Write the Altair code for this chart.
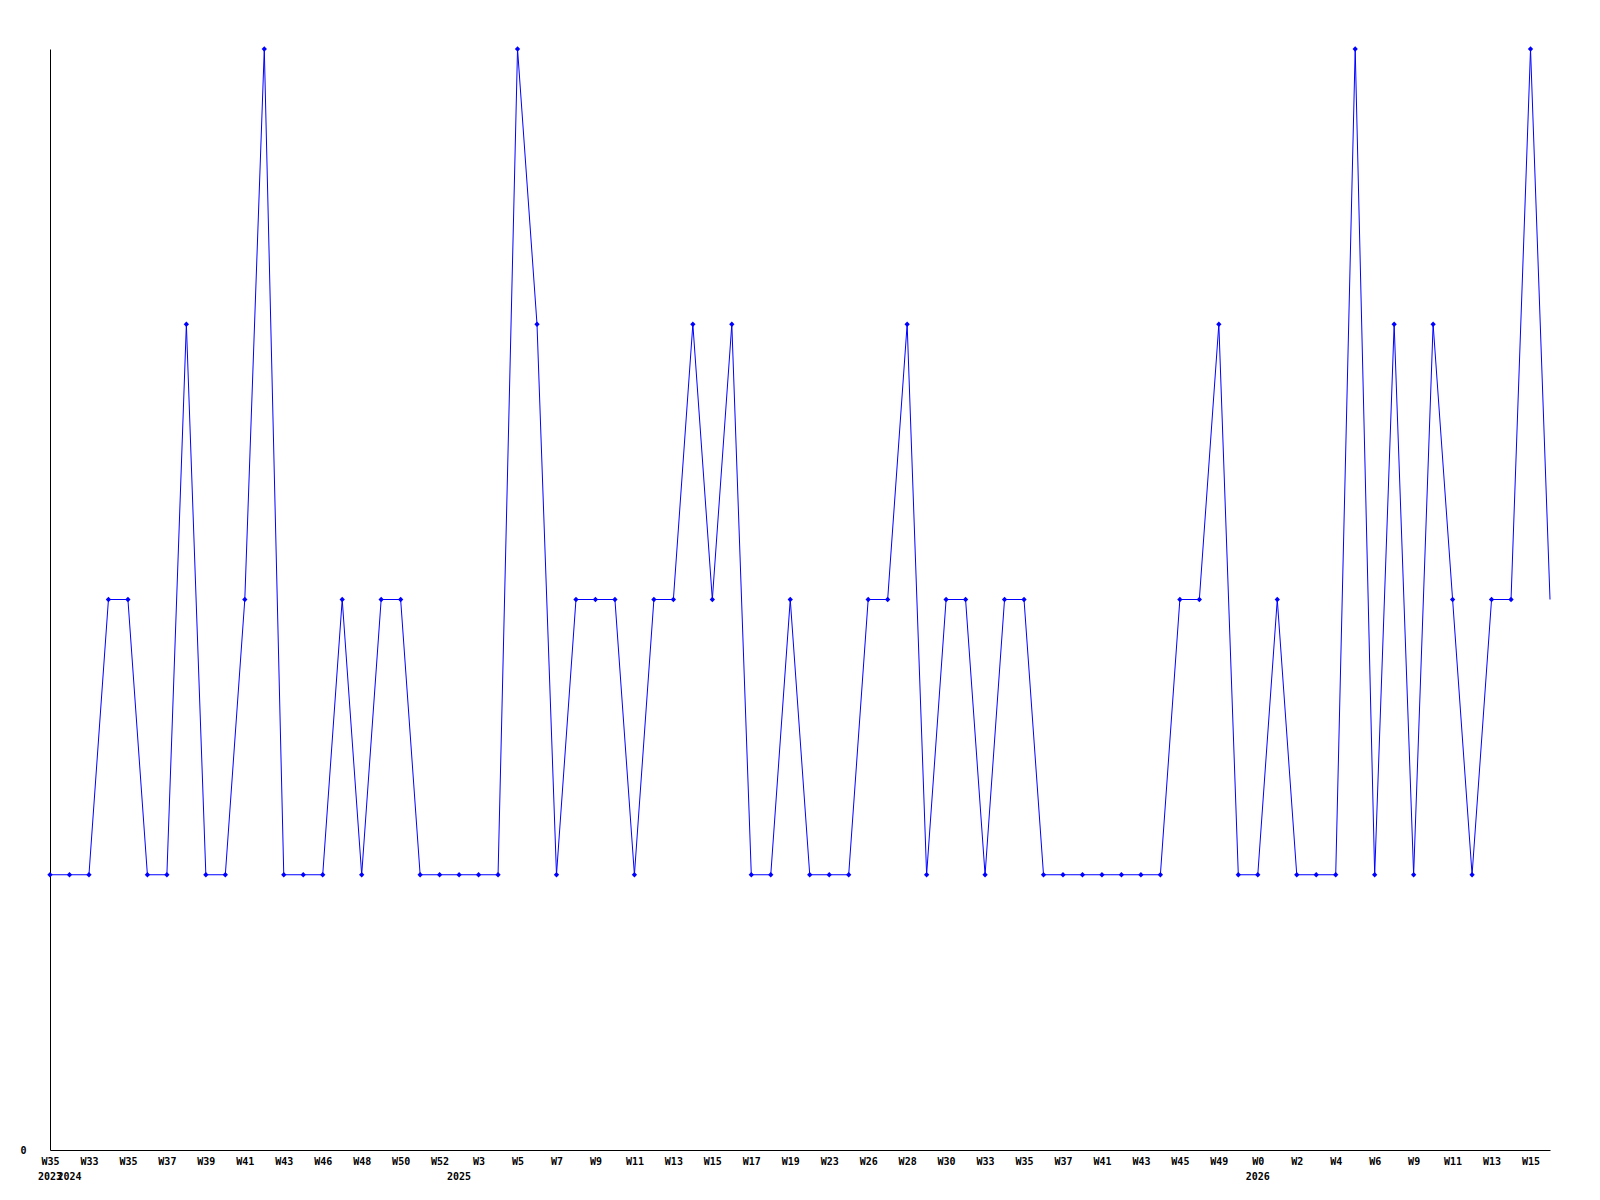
import altair as alt
import pandas as pd

years = [2023] + [2024] * 20 + [2025] * 41 + [2026] * 16
weeks = [
    35,
    32, 33, 34, 35, 36, 37, 38, 39, 40, 41, 42, 43, 45, 46, 47, 48, 49, 50, 51, 52,
    1, 3, 4, 5, 6, 7, 8, 9, 10, 11, 12, 13, 14, 15, 16, 17, 18, 19, 21, 23, 25, 26,
    27, 28, 29, 30, 32, 33, 34, 35, 36, 37, 39, 41, 42, 43, 44, 45, 47, 49, 51,
    0, 1, 2, 3, 4, 5, 6, 8, 9, 10, 11, 12, 13, 14, 15, 16,
]
values = [
    1, 1, 1, 2, 2, 1, 1, 3, 1, 1, 2, 4, 1, 1, 1, 2, 1, 2, 2, 1,
    1, 1, 1, 1, 4, 3, 1, 2, 2, 2, 1, 2, 2, 3, 2, 3, 1, 1, 2, 1,
    1, 1, 2, 2, 3, 1, 2, 2, 1, 2, 2, 1, 1, 1, 1, 1, 1, 1, 2, 2,
    3, 1, 1, 2, 1, 1, 1, 4, 1, 3, 1, 3, 2, 1, 2, 2, 4, 2,
]

keys = [f"{y}-W{w}" for y, w in zip(years, weeks)]
df = pd.DataFrame({"key": keys, "year": years, "value": values, "idx": range(len(keys))})
last_idx = len(keys) - 1

year_rows = []
seen = set()
for k, y in zip(keys, years):
    if y not in seen:
        seen.add(y)
        year_rows.append({"key": k, "label": str(y)})
ydf = pd.DataFrame(year_rows)

W, H = 1500, 1101
FONT = "DejaVu Sans Mono"

xscale = alt.Scale(domain=keys, padding=0)
xenc = alt.X(
    "key:N",
    scale=xscale,
    sort=keys,
    title=None,
    axis=alt.Axis(
        values=keys[::2],
        labelExpr="split(datum.value, '-')[1]",
        labelAngle=0,
        ticks=False,
        grid=False,
        domainColor="black",
        domainWidth=1,
        labelFont=FONT,
        labelFontWeight="bold",
        labelFontSize=10,
        labelColor="black",
        labelPadding=6,
        labelOverlap=False,
    ),
)
yenc = alt.Y(
    "value:Q",
    scale=alt.Scale(domain=[0, 4], nice=False),
    title=None,
    axis=alt.Axis(
        values=[0],
        format="d",
        ticks=False,
        grid=False,
        domainColor="black",
        domainWidth=1,
        labelFont=FONT,
        labelFontWeight="bold",
        labelFontSize=10,
        labelColor="black",
        labelPadding=24,
    ),
)

base = alt.Chart(df)
line = base.mark_line(color="#0000ff", strokeWidth=1).encode(x=xenc, y=yenc)
pts = base.transform_filter(alt.datum.idx < last_idx).mark_point(
    shape="diamond", filled=True, color="#0000ff", size=28, opacity=1
).encode(x=alt.X("key:N", scale=xscale, sort=keys), y=alt.Y("value:Q"))

yrs = alt.Chart(ydf).mark_text(
    font=FONT, fontWeight="bold", fontSize=10, color="black", baseline="middle", align="center"
).encode(
    x=alt.X("key:N", scale=xscale, sort=keys),
    y=alt.value(H + 27),
    text="label:N",
)

chart = (
    alt.layer(line, pts, yrs)
    .properties(
        width=W,
        height=H,
        autosize=alt.AutoSizeParams(type="none"),
        padding={"left": 42, "top": 41, "right": 30, "bottom": 40},
        background="white",
    )
    .configure_view(strokeWidth=0, stroke="transparent")
)

chart.save("out.html", embed_options={"renderer": "svg", "actions": False})
